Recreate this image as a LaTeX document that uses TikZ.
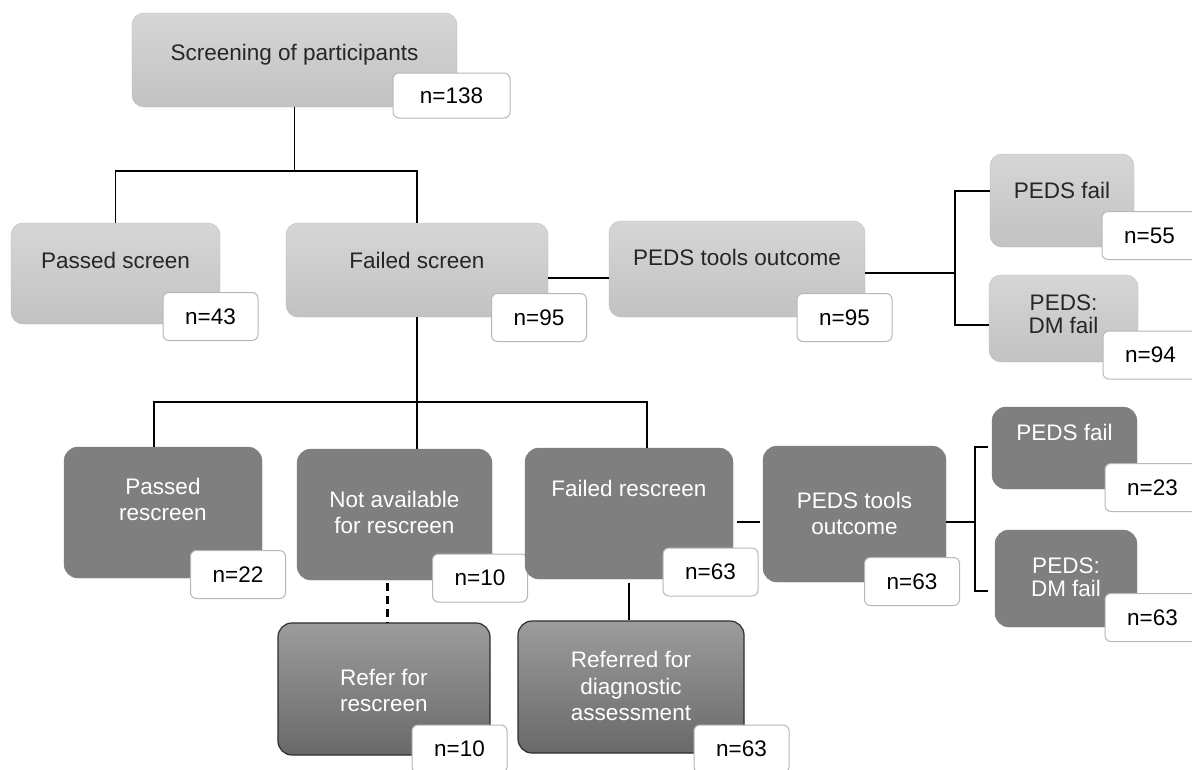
\documentclass[tikz,border=0pt]{standalone}
\usepackage{fontspec}
\setmainfont{Liberation Sans}
\usetikzlibrary{fit}
\definecolor{lighttop}{HTML}{D6D6D6}
\definecolor{lightbot}{HTML}{C2C2C2}
\definecolor{lightedge}{HTML}{BDBDBD}
\definecolor{darkmid}{HTML}{7F7F7F}
\definecolor{bottop}{HTML}{9C9C9C}
\definecolor{botbot}{HTML}{696969}
\definecolor{botedge}{HTML}{2E2E2E}
\definecolor{nedge}{HTML}{B8B8B8}

\begin{document}
\begin{tikzpicture}[x=1pt,y=-1pt,
    lbox/.style={rounded corners=12pt,draw=lightedge,top color=lighttop,bottom color=lightbot,inner sep=0pt},
    dbox/.style={rounded corners=14pt,draw=darkmid,fill=darkmid,inner sep=0pt},
    bbox/.style={rounded corners=14pt,draw=botedge,line width=1.2pt,top color=bottop,bottom color=botbot,inner sep=0pt},
    nbox/.style={rounded corners=6pt,draw=nedge,line width=1pt,fill=white,inner sep=0pt,
        minimum width=95,minimum height=48,font=\fontsize{22.5}{26}\selectfont},
    ltxt/.style={font=\fontsize{22.5}{26}\selectfont,text=black!85,align=center},
    wtxt/.style={font=\fontsize{22.5}{26}\selectfont,text=white,align=center},
    link/.style={line width=1.3pt},
    dashlink/.style={line width=2.6pt,dash pattern=on 8pt off 5pt}]
    \useasboundingbox[fill=white] (0,0) rectangle (1192,769);
    \node[lbox,fit={(132,13) (457,107)}] (screen) {};
    \node[ltxt] (screenT) at (screen.center |- 0,55) {Screening of participants};
    \node[nbox,minimum width=117,minimum height=45] (screenN) at (451.5,95.5) {n=138};
    \node[lbox,fit={(11,223) (220,324)}] (passed) {};
    \node[ltxt] (passedT) at (passed.center |- 0,260) {Passed screen};
    \node[nbox] (passedN) at (210.5,316.5) {n=43};
    \node[lbox,fit={(286,223) (548,317)}] (failed) {};
    \node[ltxt] (failedT) at (failed.center |- 0,260) {Failed screen};
    \node[nbox] (failedN) at (539,317.5) {n=95};
    \node[lbox,fit={(609,221) (865,317)}] (pedsA) {};
    \node[ltxt] (pedsAT) at (pedsA.center |- 0,257) {PEDS tools outcome};
    \node[nbox] (pedsAN) at (844.5,317.5) {n=95};
    \node[lbox,fit={(990,154) (1134,247)}] (pfA) {};
    \node[ltxt] (pfAT) at (pfA.center |- 0,190) {PEDS fail};
    \node[nbox] (pfAN) at (1149.5,235.5) {n=55};
    \node[lbox,fit={(989,275) (1138,362)}] (dmA) {};
    \node[ltxt,font=\fontsize{22.5}{23}\selectfont] (dmAT) at (dmA.center |- 0,314) {PEDS:\\DM fail};
    \node[nbox] (dmAN) at (1150.5,355) {n=94};
    \node[dbox,fit={(64,447) (262,578)}] (prs) {};
    \node[wtxt] (prsT) at (prs.center |- 0,499) {Passed\\rescreen};
    \node[nbox] (prsN) at (238,574.5) {n=22};
    \node[dbox,fit={(297,449) (492,580)}] (nav) {};
    \node[wtxt] (navT) at (nav.center |- 0,512) {Not available\\for rescreen};
    \node[nbox] (navN) at (480,578) {n=10};
    \node[dbox,fit={(525,448) (733,579)}] (frs) {};
    \node[wtxt] (frsT) at (frs.center |- 0,488) {Failed rescreen};
    \node[nbox] (frsN) at (710.5,572) {n=63};
    \node[dbox,fit={(763,446) (946,582)}] (pedsB) {};
    \node[wtxt] (pedsBT) at (pedsB.center |- 0,513) {PEDS tools\\outcome};
    \node[nbox] (pedsBN) at (912,581.5) {n=63};
    \node[dbox,fit={(992,407) (1137,489)}] (pfB) {};
    \node[wtxt] (pfBT) at (pfB.center |- 0,432) {PEDS fail};
    \node[nbox] (pfBN) at (1152.5,487.5) {n=23};
    \node[dbox,fit={(995,530) (1137,627)}] (dmB) {};
    \node[wtxt,font=\fontsize{22.5}{23}\selectfont] (dmBT) at (dmB.center |- 0,577) {PEDS:\\DM fail};
    \node[nbox] (dmBN) at (1152.5,617.5) {n=63};
    \node[bbox,fit={(278,623) (490,755)}] (refer) {};
    \node[wtxt] (referT) at (refer.center |- 0,690) {Refer for\\rescreen};
    \node[nbox] (referN) at (459.5,749) {n=10};
    \node[bbox,fit={(518,621) (744,753)}] (referred) {};
    \node[wtxt,font=\fontsize{22.5}{26.5}\selectfont] (referredT) at (referred.center |- 0,686) {Referred for\\diagnostic\\assessment};
    \node[nbox] (referredN) at (741.5,749) {n=63};
    \coordinate (fork1) at (screen.south |- 0,171);
    \coordinate (fork2) at (failed.south |- 0,402);
    \coordinate (forkA) at (955,273);
    \coordinate (forkB) at (975,522);
    \draw[link] (screen.south) -- (fork1);
    \draw[link] (passed.north) |- (fork1) -| (failed.north);
    \draw[link] (failed.east |- 0,278) -- (pedsA.west |- 0,278);
    \draw[link] (pedsA.east |- forkA) -- (forkA);
    \draw[link] (pfA.west |- 0,191) -| (forkA) |- (dmA.west |- 0,325);
    \draw[link] (failed.south) -- (failed.south |- nav.north);
    \draw[link] ([xshift=-9pt]prs.north) |- (fork2) -| ([xshift=18pt]frs.north);
    \draw[link] ([xshift=4pt]frs.east |- forkB) -- ([xshift=-3pt]pedsB.west |- forkB);
    \draw[link] (pedsB.east |- forkB) -- (forkB);
    \draw[link] ([xshift=-4pt]pfB.west |- 0,447) -| (forkB) |- ([xshift=-7pt]dmB.west |- 0,591);
    \draw[dashlink] ([xshift=-7pt,yshift=-3pt]nav.south) -- ([xshift=-7pt]nav.south |- refer.north);
    \draw[link] ([yshift=-4pt]frs.south) -- (frs.south |- referred.north);
\end{tikzpicture}
\end{document}
